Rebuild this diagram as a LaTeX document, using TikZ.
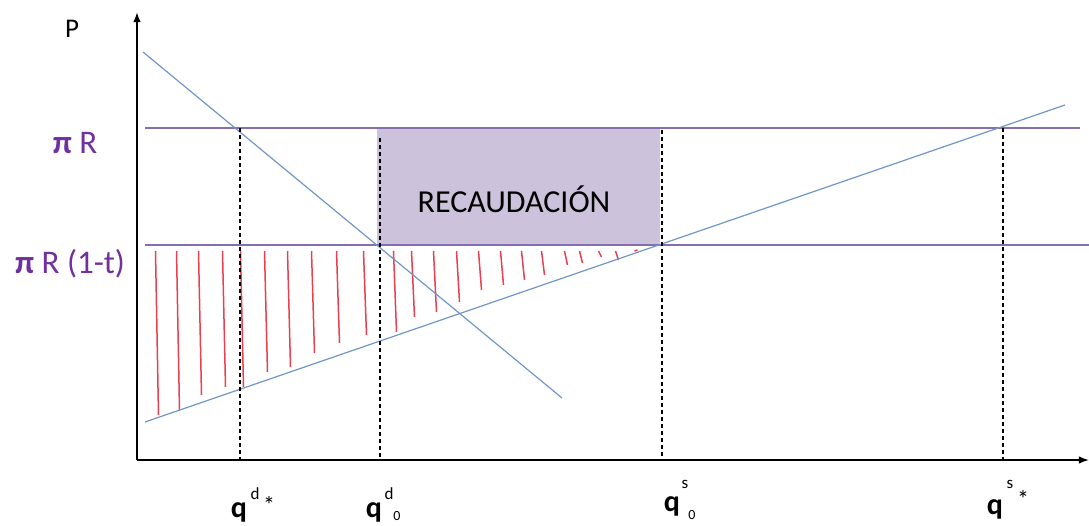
\documentclass[tikz,border=0pt]{standalone}
\usepackage{fontspec}
\setmainfont{Carlito}
\usetikzlibrary{arrows.meta}
\definecolor{lila}{RGB}{132,110,172}
\definecolor{lilatxt}{RGB}{112,48,160}
\definecolor{recfill}{RGB}{204,194,220}
\definecolor{curva}{RGB}{112,150,200}
\definecolor{rayado}{RGB}{232,64,80}
\begin{document}
\begin{tikzpicture}[x=1pt,y=-1pt,>=Latex,
  eje/.style={line width=1.6pt},
  precio/.style={lila,line width=1.4pt},
  curvas/.style={curva,line width=1.2pt},
  guia/.style={dashed,dash pattern=on 4pt off 3pt,line width=1.1pt},
  raya/.style={rayado,line width=1.5pt},
  etq/.style={inner sep=0pt,font=\fontsize{33}{36}\selectfont,text=lilatxt},
  qlab/.style={inner sep=0pt,font=\fontsize{30}{32}\selectfont\bfseries},
  qsup/.style={inner sep=0pt,font=\fontsize{17}{18}\selectfont}]
  \useasboundingbox (0,0) rectangle (1089,526);
  % recaudación
  \fill[recfill] (377,128) rectangle (660,245);
  \node[inner sep=0pt,font=\fontsize{32}{34}\selectfont] (rec) at (514,199) {RECAUDACIÓN};
  % rayado rojo
  \foreach \x/\y in {157/415,178/410,200/395,224/387,242/387,266/372,289/367,313/353,338/343,365/335,395/332,413/317,435/312,458/302,480/290,502/285,523/280,543/275,566/265,581/263,600/257,617/260,636/250}
    \draw[raya] ({\x-1.5},251) -- ({\x+1.5},\y);
  % ejes
  \coordinate (o) at (137,460);
  \coordinate (ytop) at (137,12);
  \coordinate (xend) at (1089,460);
  \draw[eje,->] (o) -- (ytop);
  \draw[eje,->] (o) -- (xend);
  \node[inner sep=0pt,font=\fontsize{27}{29}\selectfont] (p) at (72,29) {P};
  % precios
  \draw[precio] (145,128) -- (1080,128);
  \draw[precio] (145,245) -- (1089,245);
  \node[etq] (pr) at (75,143) {\textbf{π} R};
  \node[etq] (prt) at (70,264) {\textbf{π} R (1-t)};
  % demanda y oferta
  \draw[curvas] (143,52) -- (562,398);
  \draw[curvas] (145,422) -- (1065,105);
  % cantidades
  \draw[guia] (240,128) -- (240,460);
  \draw[guia] (380,138) -- (380,460);
  \draw[guia] (662,130) -- (662,460);
  \draw[guia] (1003,128) -- (1003,460);
  \node[qlab] (qd) at (239,512) {q};
  \node[qsup] (qdsup) at (255,494) {d};
  \node[qlab,font=\fontsize{24}{26}\selectfont] (qdast) at (269,505) {*};
  \node[qlab] (qdo) at (374,512) {q};
  \node[qsup] (qdosup) at (389,494) {d};
  \node[qsup,font=\fontsize{14}{15}\selectfont] (qdosub) at (397,516) {0};
  \node[qlab] (qso) at (672,506) {q};
  \node[qsup] (qsosup) at (685,484) {s};
  \node[qsup,font=\fontsize{14}{15}\selectfont] (qsosub) at (692,515) {0};
  \node[qlab] (qs) at (995,509) {q};
  \node[qsup] (qssup) at (1010,484) {s};
  \node[qlab,font=\fontsize{24}{26}\selectfont] (qsast) at (1023,499) {*};
\end{tikzpicture}
\end{document}
